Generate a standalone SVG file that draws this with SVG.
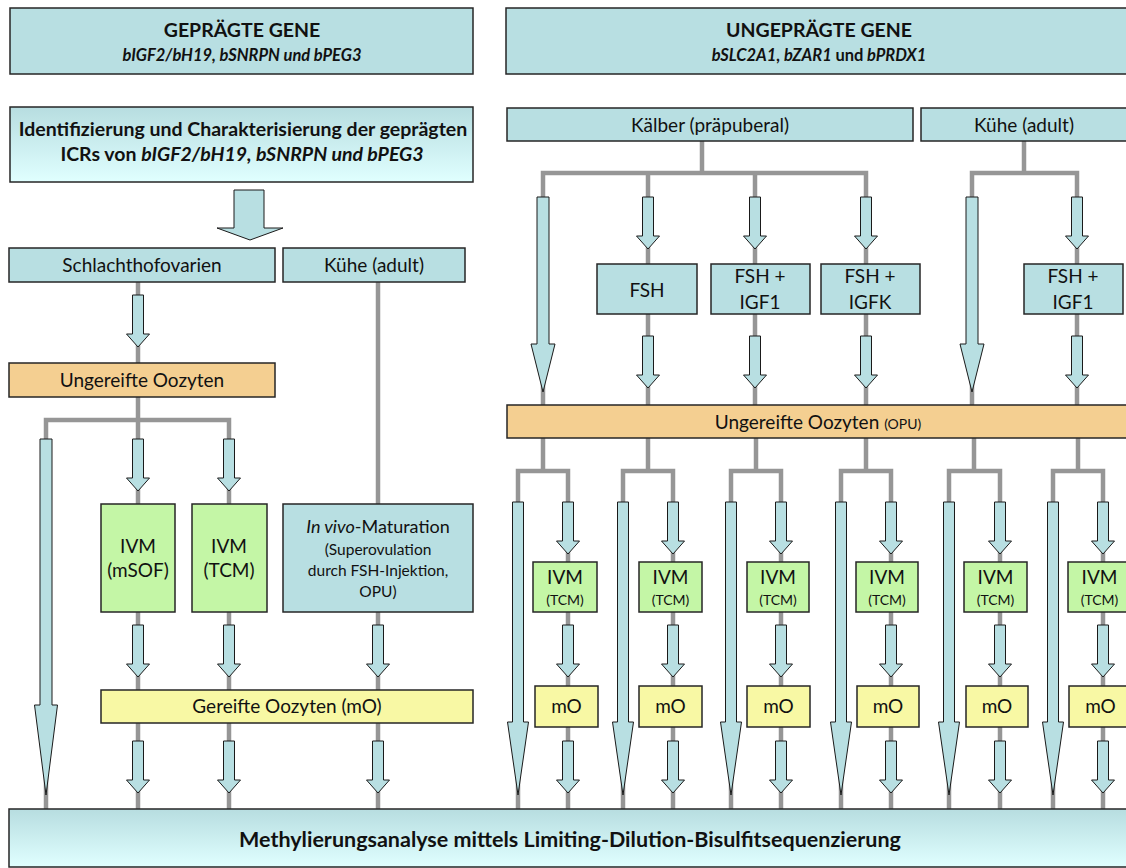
<svg xmlns="http://www.w3.org/2000/svg" xmlns:xlink="http://www.w3.org/1999/xlink" width="1126" height="868" viewBox="0 0 1126 868">
<defs>
<linearGradient id="grad" x1="0" y1="0" x2="0" y2="1">
<stop offset="0" stop-color="#b7dde0"/>
<stop offset="1" stop-color="#e0ffff"/>
</linearGradient>
<polygon id="sa" points="-5.5,0 5.5,0 5.5,39 11.5,39 0,52 -11.5,39 -5.5,39" class="arr"/>
<polygon id="la" points="-5.5,0 5.5,0 5.5,220 10.5,220 0,293 -10.5,220 -5.5,220" class="arr"/>
<polygon id="ta" points="-6,0 6,0 6,147 12,147 0,195 -12,147 -6,147" class="arr"/>
</defs>
<style>
.box{stroke:#262626;stroke-width:1.5}
.teal{fill:#b8dfe2}
.grad{fill:url(#grad)}
.orange{fill:#f4cf91}
.green{fill:#c4f6a6}
.yellow{fill:#f8f8a4}
.line{stroke:#969696;stroke-width:4.5;fill:none;stroke-linejoin:miter}
.arr{fill:#b8dfe2;stroke:#1a1a1a;stroke-width:1}
text{font-family:Lato,'Open Sans',sans-serif;fill:#111;text-anchor:middle;font-size:19px}
.b{font-weight:bold}
.bi{font-weight:bold;font-style:italic}
.s{font-size:14px}
.m{font-size:15.5px}
</style>
<rect width="1126" height="868" fill="#ffffff"/>

<g id="connectors">
<polyline class="line" points="46,810 46,420 229,420 229,810"/>
<line class="line" x1="138" y1="282" x2="138" y2="810"/>
<line class="line" x1="378" y1="282" x2="378" y2="810"/>
<line class="line" x1="702" y1="141" x2="702" y2="173"/>
<polyline class="line" points="543,405 543,173 866,173 866,405"/>
<line class="line" x1="648" y1="173" x2="648" y2="405"/>
<line class="line" x1="755" y1="173" x2="755" y2="405"/>
<line class="line" x1="1024" y1="141" x2="1024" y2="173"/>
<polyline class="line" points="972,405 972,173 1077,173 1077,405"/>
<line class="line" x1="543" y1="438" x2="543" y2="471"/>
<polyline class="line" points="518,809 518,471 568,471 568,809"/>
<line class="line" x1="648" y1="438" x2="648" y2="471"/>
<polyline class="line" points="623,809 623,471 673,471 673,809"/>
<line class="line" x1="756" y1="438" x2="756" y2="471"/>
<polyline class="line" points="731,809 731,471 781,471 781,809"/>
<line class="line" x1="866" y1="438" x2="866" y2="471"/>
<polyline class="line" points="841,809 841,471 891,471 891,809"/>
<line class="line" x1="974" y1="438" x2="974" y2="471"/>
<polyline class="line" points="949,809 949,471 1000,471 1000,809"/>
<line class="line" x1="1078" y1="438" x2="1078" y2="471"/>
<polyline class="line" points="1053,809 1053,471 1103,471 1103,809"/>

<polygon class="arr" points="234,190 264,190 264,228 283,228 250,240 217,228 234,228"/>
<polygon class="arr" points="40,439 52,439 52,705 57.5,705 46,795 34.5,705 40,705"/>
<use xlink:href="#sa" x="138" y="295"/>
<use xlink:href="#sa" x="138" y="439"/>
<use xlink:href="#sa" x="229" y="439"/>
<use xlink:href="#sa" x="138" y="625"/>
<use xlink:href="#sa" x="229" y="625"/>
<use xlink:href="#sa" x="378" y="625"/>
<use xlink:href="#sa" x="138" y="741"/>
<use xlink:href="#sa" x="229" y="741"/>
<use xlink:href="#sa" x="378" y="741"/>
<use xlink:href="#ta" x="543" y="197"/>
<use xlink:href="#ta" x="972" y="197"/>
<use xlink:href="#sa" x="648" y="197"/>
<use xlink:href="#sa" x="755" y="197"/>
<use xlink:href="#sa" x="866" y="197"/>
<use xlink:href="#sa" x="1077" y="197"/>
<use xlink:href="#sa" x="648" y="336"/>
<use xlink:href="#sa" x="755" y="336"/>
<use xlink:href="#sa" x="866" y="336"/>
<use xlink:href="#sa" x="1077" y="336"/>
<use xlink:href="#la" x="518" y="502"/>
<use xlink:href="#la" x="623" y="502"/>
<use xlink:href="#la" x="731" y="502"/>
<use xlink:href="#la" x="841" y="502"/>
<use xlink:href="#la" x="949" y="502"/>
<use xlink:href="#la" x="1053" y="502"/>
<use xlink:href="#sa" x="568" y="502"/>
<use xlink:href="#sa" x="673" y="502"/>
<use xlink:href="#sa" x="781" y="502"/>
<use xlink:href="#sa" x="891" y="502"/>
<use xlink:href="#sa" x="1000" y="502"/>
<use xlink:href="#sa" x="1103" y="502"/>
<use xlink:href="#sa" x="568" y="625"/>
<use xlink:href="#sa" x="673" y="625"/>
<use xlink:href="#sa" x="781" y="625"/>
<use xlink:href="#sa" x="891" y="625"/>
<use xlink:href="#sa" x="1000" y="625"/>
<use xlink:href="#sa" x="1103" y="625"/>
<use xlink:href="#sa" x="568" y="741"/>
<use xlink:href="#sa" x="673" y="741"/>
<use xlink:href="#sa" x="781" y="741"/>
<use xlink:href="#sa" x="891" y="741"/>
<use xlink:href="#sa" x="1000" y="741"/>
<use xlink:href="#sa" x="1103" y="741"/>
</g>

<g id="hdr-left">
<rect class="box teal" x="10" y="8" width="463" height="66"/>
<text class="b" x="242" y="37" style="font-size:19.5px">GEPRÄGTE GENE</text>
<text class="bi" x="242" y="61" style="font-size:16.5px">bIGF2/bH19, bSNRPN und bPEG3</text>
</g>
<g id="hdr-right">
<rect class="box teal" x="506" y="8" width="630" height="66"/>
<text class="b" x="819" y="37" style="font-size:19.5px">UNGEPRÄGTE GENE</text>
<text class="bi" x="819" y="61" style="font-size:16.5px">bSLC2A1, bZAR1 <tspan style="font-style:normal">und</tspan> bPRDX1</text>
</g>
<g id="ident">
<rect class="box grad" x="10" y="107" width="463" height="75"/>
<text class="b" x="243" y="136" style="font-size:19.5px">Identifizierung und Charakterisierung der geprägten</text>
<text class="b" x="242" y="161" style="font-size:19.5px">ICRs von <tspan font-style="italic">bIGF2/bH19, bSNRPN und bPEG3</tspan></text>
</g>
<g id="schlacht">
<rect class="box teal" x="9" y="248" width="266" height="34"/>
<text x="142" y="272">Schlachthofovarien</text>
</g>
<g id="kuehe-left">
<rect class="box teal" x="283" y="248" width="182" height="34"/>
<text x="374" y="272">Kühe (adult)</text>
</g>
<g id="ungereift-left">
<rect class="box orange" x="9" y="363" width="266" height="34"/>
<text x="142" y="387">Ungereifte Oozyten</text>
</g>
<g id="ivm-msof">
<rect class="box green" x="101" y="504" width="74" height="108"/>
<text x="138" y="553">IVM</text>
<text x="138" y="577">(mSOF)</text>
</g>
<g id="ivm-tcm-left">
<rect class="box green" x="192" y="504" width="75" height="108"/>
<text x="229" y="553">IVM</text>
<text x="229" y="577">(TCM)</text>
</g>
<g id="invivo">
<rect class="box teal" x="283" y="504" width="190" height="108"/>
<text x="378" y="533" style="font-size:18px"><tspan font-style="italic">In vivo</tspan>-Maturation</text>
<text class="m" x="378" y="555">(Superovulation</text>
<text class="m" x="378" y="576">durch FSH-Injektion,</text>
<text class="m" x="378" y="597">OPU)</text>
</g>
<g id="gereift">
<rect class="box yellow" x="101" y="690" width="372" height="33"/>
<text x="287" y="713">Gereifte Oozyten (mO)</text>
</g>

<g id="kaelber">
<rect class="box teal" x="507" y="108" width="406" height="33"/>
<text x="710" y="132">Kälber (präpuberal)</text>
</g>
<g id="kuehe-right">
<rect class="box teal" x="921" y="108" width="215" height="33"/>
<text x="1024" y="132">Kühe (adult)</text>
</g>
<g id="fsh">
<rect class="box teal" x="597" y="264" width="100" height="50"/>
<text x="647" y="297">FSH</text>
</g>
<g id="fsh-igf1">
<rect class="box teal" x="711" y="264" width="99" height="50"/>
<text x="760" y="283">FSH +</text>
<text x="760" y="309">IGF1</text>
</g>
<g id="fsh-igfk">
<rect class="box teal" x="821" y="264" width="99" height="50"/>
<text x="870" y="283">FSH +</text>
<text x="870" y="309">IGFK</text>
</g>
<g id="fsh-igf1-b">
<rect class="box teal" x="1024" y="264" width="99" height="50"/>
<text x="1073" y="283">FSH +</text>
<text x="1073" y="309">IGF1</text>
</g>
<g id="ungereift-opu">
<rect class="box orange" x="507" y="405" width="629" height="33"/>
<text x="818" y="429">Ungereifte Oozyten <tspan class="s">(OPU)</tspan></text>
</g>

<g id="ivm1"><rect class="box green" x="533" y="562" width="64" height="50"/><text x="565" y="584">IVM</text><text class="s" x="565" y="605">(TCM)</text></g>
<g id="ivm2"><rect class="box green" x="639" y="562" width="63" height="50"/><text x="670.5" y="584">IVM</text><text class="s" x="670.5" y="605">(TCM)</text></g>
<g id="ivm3"><rect class="box green" x="747" y="562" width="62" height="50"/><text x="778" y="584">IVM</text><text class="s" x="778" y="605">(TCM)</text></g>
<g id="ivm4"><rect class="box green" x="856" y="562" width="62" height="50"/><text x="887" y="584">IVM</text><text class="s" x="887" y="605">(TCM)</text></g>
<g id="ivm5"><rect class="box green" x="964" y="562" width="63" height="50"/><text x="995.5" y="584">IVM</text><text class="s" x="995.5" y="605">(TCM)</text></g>
<g id="ivm6"><rect class="box green" x="1068" y="562" width="63" height="50"/><text x="1099.5" y="584">IVM</text><text class="s" x="1099.5" y="605">(TCM)</text></g>

<g id="mo1"><rect class="box yellow" x="535" y="686" width="63" height="41"/><text x="566.5" y="713">mO</text></g>
<g id="mo2"><rect class="box yellow" x="639" y="686" width="63" height="41"/><text x="670.5" y="713">mO</text></g>
<g id="mo3"><rect class="box yellow" x="747" y="686" width="63" height="41"/><text x="778.5" y="713">mO</text></g>
<g id="mo4"><rect class="box yellow" x="857" y="686" width="62" height="41"/><text x="888" y="713">mO</text></g>
<g id="mo5"><rect class="box yellow" x="966" y="686" width="62" height="41"/><text x="997" y="713">mO</text></g>
<g id="mo6"><rect class="box yellow" x="1069" y="686" width="63" height="41"/><text x="1100.5" y="713">mO</text></g>

<g id="methyl">
<rect class="box grad" x="9" y="809" width="1127" height="58"/>
<text class="b" x="570" y="847" style="font-size:21.5px">Methylierungsanalyse mittels Limiting-Dilution-Bisulfitsequenzierung</text>
</g>
</svg>
